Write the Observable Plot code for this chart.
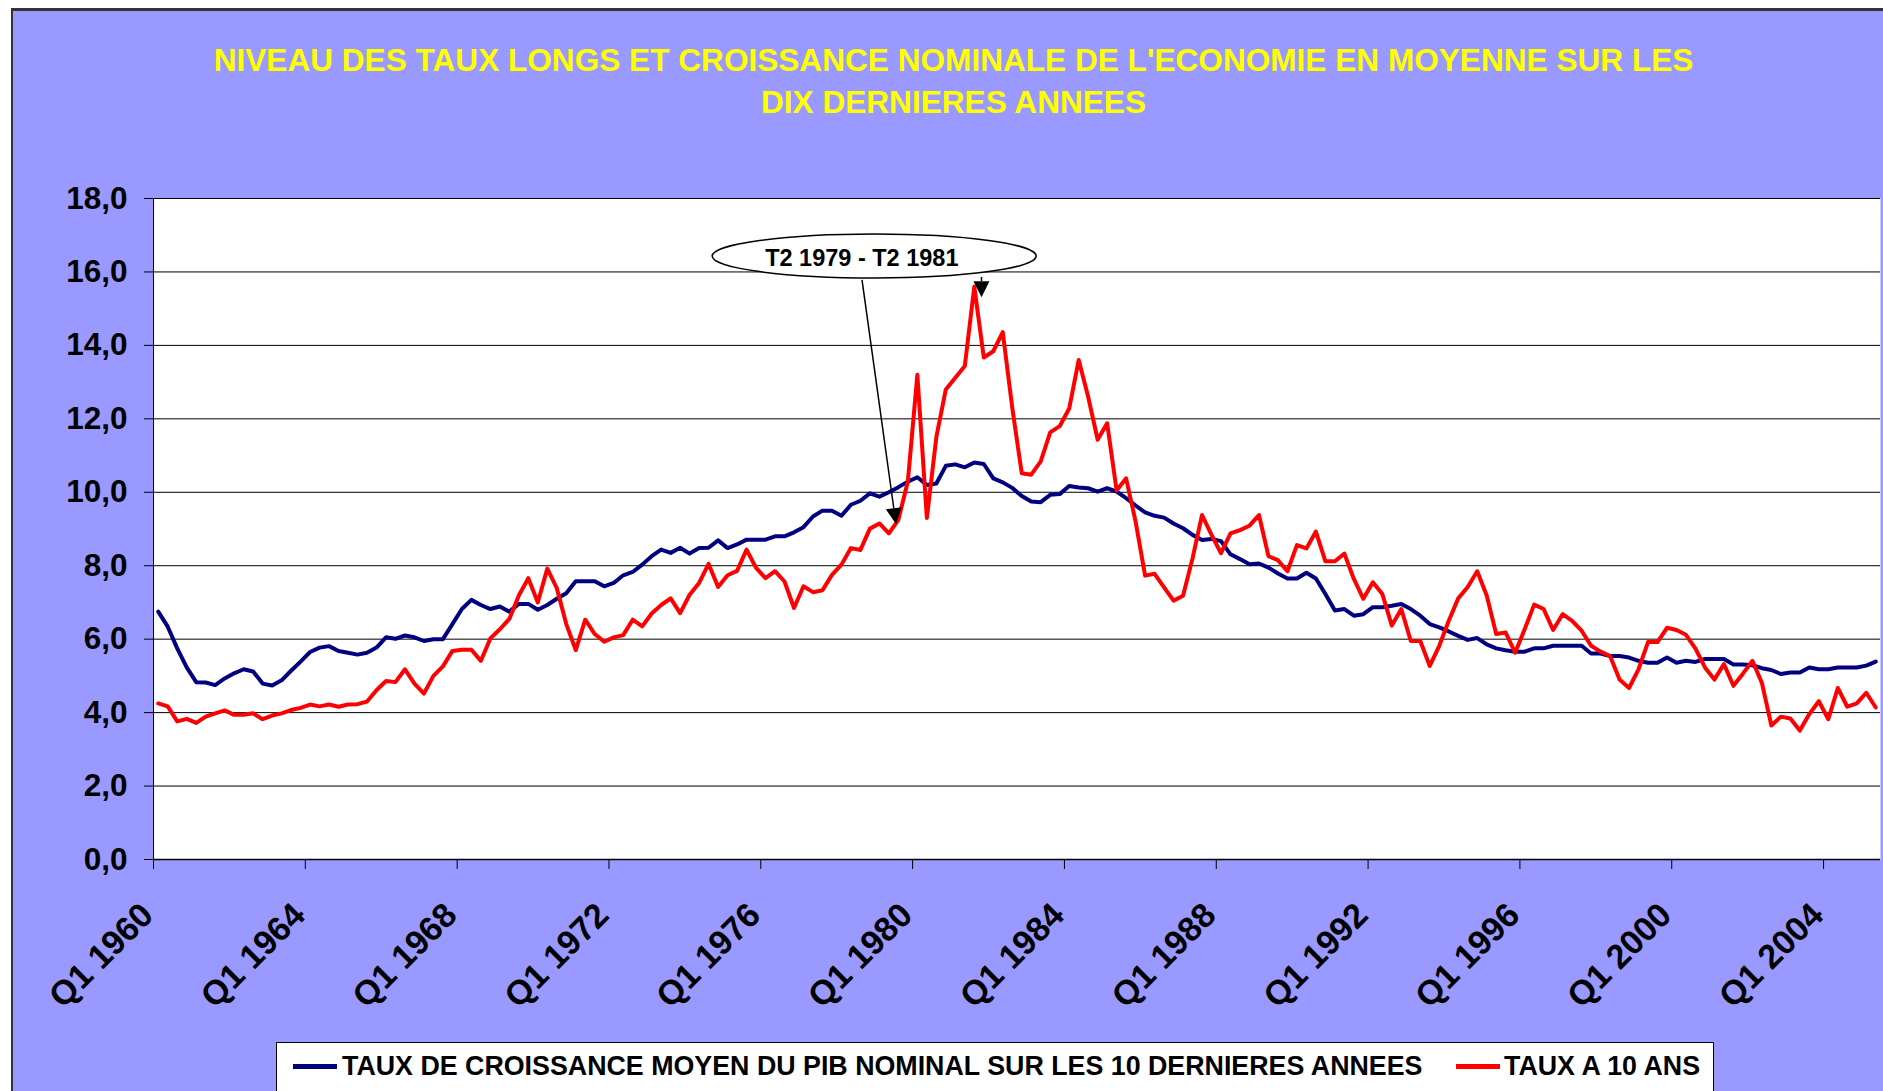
<!DOCTYPE html>
<html><head><meta charset="utf-8">
<script src="https://cdn.jsdelivr.net/npm/d3@7"></script>
<script src="https://cdn.jsdelivr.net/npm/@observablehq/plot@0.6"></script>
<style>
html,body{margin:0;padding:0;width:1883px;height:1091px;overflow:hidden;background:#fff;font-family:"Liberation Sans",Arial,sans-serif;}
#bg{position:absolute;left:11px;top:8px;width:1900px;height:1100px;background:#9999FF;border-top:3px solid #333;border-left:2px solid #333;}
#title{position:absolute;left:0;top:39px;width:1907px;text-align:center;color:#FFFF00;font-weight:bold;font-size:31.6px;line-height:42px;}
#chart{position:absolute;left:0;top:140px;}
#legend{position:absolute;left:276px;top:1042px;width:1436px;height:70px;background:#fff;border:1.5px solid #000;}
.sw{position:absolute;top:21px;height:5px;width:44px;}
.lt{position:absolute;top:6px;font-weight:bold;font-size:26.8px;line-height:34px;color:#000;white-space:nowrap;}
</style></head>
<body>
<div id="bg"></div>
<div id="title">NIVEAU DES TAUX LONGS ET CROISSANCE NOMINALE DE L'ECONOMIE EN MOYENNE SUR LES<br>DIX DERNIERES ANNEES</div>
<div id="chart"></div>
<div id="legend">
  <div class="sw" style="left:16px;background:#000080"></div>
  <div class="lt" id="l1" style="left:65px"></div>
  <div class="sw" style="left:1179px;background:#FF0000"></div>
  <div class="lt" id="l2" style="left:1227px"></div>
</div>
<script>
const startYear = 1960;
const seriesNames = ["TAUX DE CROISSANCE MOYEN DU PIB NOMINAL SUR LES 10 DERNIERES ANNEES", "TAUX A 10 ANS"];
const seriesColors = ["#000080", "#FF0000"];
const tickLabels = ["Q1 1960","Q1 1964","Q1 1968","Q1 1972","Q1 1976","Q1 1980","Q1 1984","Q1 1988","Q1 1992","Q1 1996","Q1 2000","Q1 2004"];
const yTicks = [0,2,4,6,8,10,12,14,16,18];

// Taux de croissance moyen du PIB nominal sur 10 ans (Q1 1960 .. Q2 2005)
const pibGrowth = [
6.75,6.34,5.75,5.23,4.83,4.82,4.75,4.93,5.07,5.18,5.12,4.79,4.74,4.88,5.14,5.39,
5.65,5.77,5.81,5.68,5.63,5.58,5.63,5.77,6.05,6.01,6.10,6.05,5.95,6.00,6.00,6.41,
6.82,7.07,6.93,6.82,6.89,6.75,6.96,6.96,6.80,6.93,7.10,7.25,7.58,7.58,7.58,7.44,
7.53,7.74,7.83,8.03,8.26,8.44,8.35,8.49,8.33,8.48,8.49,8.69,8.48,8.58,8.71,8.71,
8.71,8.80,8.80,8.91,9.05,9.34,9.50,9.50,9.36,9.66,9.77,9.97,9.88,10.00,10.14,10.29,
10.41,10.20,10.24,10.72,10.76,10.68,10.81,10.77,10.38,10.27,10.12,9.90,9.75,9.73,9.93,9.95,
10.17,10.13,10.11,10.02,10.11,10.02,9.84,9.64,9.45,9.36,9.31,9.15,9.02,8.84,8.70,8.73,
8.67,8.31,8.18,8.04,8.06,7.95,7.79,7.65,7.65,7.81,7.65,7.23,6.78,6.82,6.64,6.68,
6.87,6.87,6.91,6.96,6.82,6.64,6.41,6.32,6.21,6.09,5.98,6.03,5.86,5.75,5.70,5.66,
5.66,5.75,5.75,5.82,5.82,5.82,5.82,5.61,5.61,5.54,5.54,5.50,5.41,5.36,5.36,5.50,
5.36,5.41,5.38,5.46,5.46,5.46,5.31,5.31,5.29,5.21,5.16,5.05,5.09,5.09,5.23,5.18,
5.18,5.23,5.23,5.23,5.28,5.39
];
// Taux a 10 ans
const taux10 = [
4.25,4.17,3.76,3.83,3.72,3.89,3.98,4.06,3.94,3.94,3.98,3.82,3.92,3.98,4.07,4.13,
4.22,4.17,4.22,4.16,4.22,4.23,4.30,4.61,4.86,4.83,5.18,4.79,4.52,5.00,5.26,5.68,
5.71,5.71,5.41,6.02,6.27,6.55,7.19,7.66,7.00,7.92,7.39,6.41,5.70,6.53,6.14,5.93,
6.05,6.11,6.53,6.35,6.70,6.93,7.11,6.71,7.21,7.53,8.05,7.42,7.74,7.86,8.44,7.94,
7.66,7.85,7.57,6.85,7.44,7.28,7.33,7.75,8.03,8.48,8.43,9.01,9.15,8.88,9.25,10.30,
13.20,9.30,11.50,12.80,13.12,13.44,15.60,13.67,13.84,14.36,12.30,10.52,10.48,10.84,11.63,11.80,
12.28,13.60,12.60,11.43,11.88,10.05,10.38,9.20,7.73,7.78,7.41,7.05,7.18,8.20,9.38,8.84,
8.34,8.88,8.97,9.09,9.38,8.26,8.15,7.85,8.56,8.47,8.93,8.12,8.12,8.33,7.64,7.10,
7.55,7.23,6.37,6.82,5.95,5.95,5.27,5.82,6.50,7.11,7.42,7.85,7.19,6.14,6.18,5.63,
6.27,6.94,6.82,6.25,6.68,6.50,6.23,5.82,5.66,5.54,4.90,4.67,5.18,5.92,5.92,6.31,
6.25,6.12,5.74,5.23,4.90,5.32,4.73,5.06,5.41,4.81,3.65,3.89,3.84,3.51,3.96,4.31,
3.82,4.67,4.16,4.25,4.54,4.14
];

// annotation (in data units: x = quarter index, y = percent)
const annotationLabel = "T2 1979 - T2 1981";
const annotationEllipse = {x: 76.0, y: 16.42, rx: 162, ry: 22};
const annotationText = {x: 74.7, y: 16.37};
const annotationArrows = [
  {x1: 74.72, y1: 15.77, x2: 78.3, y2: 9.12},
  {x1: 87.31, y1: 15.85, x2: 87.31, y2: 15.3}
];

document.getElementById("l1").textContent = seriesNames[0];
document.getElementById("l2").textContent = seriesNames[1];

const nQ = pibGrowth.length;
const quarters = d3.range(nQ).map(i => `Q${(i % 4) + 1} ${startYear + Math.floor(i / 4)}`);
const rows = [];
quarters.forEach((q, i) => {
  rows.push({s: seriesNames[0], x: i + 0.5, v: pibGrowth[i], q});
  rows.push({s: seriesNames[1], x: i + 0.5, v: taux10[i], q});
});
const tickPos = tickLabels.map(l => quarters.indexOf(l));

const plot = Plot.plot({
  width: 1883, height: 890,
  marginLeft: 153, marginRight: 3, marginTop: 58, marginBottom: 171,
  style: {background: "transparent", fontFamily: "Liberation Sans, Arial, sans-serif", fontWeight: "bold", color: "#000", overflow: "visible"},
  x: {domain: [0, nQ], axis: null},
  y: {domain: [0, 18], axis: null},
  color: {domain: seriesNames, range: seriesColors},
  marks: [
    Plot.frame({fill: "white", stroke: null}),
    Plot.gridY(yTicks, {stroke: "#000", strokeOpacity: 1, strokeWidth: 1}),
    Plot.axisY(yTicks, {label: null, tickSize: 9, tickPadding: 17, fontSize: 31.5, tickFormat: d => d.toFixed(1).replace(".", ",")}),
    Plot.axisX(tickPos, {label: null, tickSize: 10, tickFormat: () => ""}),
    Plot.axisX(tickPos, {label: null, tickSize: 0, tickPadding: 50, tickRotate: -45, fontSize: 34, dx: -6, tickFormat: d => tickLabels[tickPos.indexOf(d)]}),
    Plot.ruleX([0], {stroke: "#000", strokeWidth: 1}),
    Plot.ruleY([0], {stroke: "#000", strokeWidth: 1.5}),
    Plot.line(rows, {x: "x", y: "v", z: "s", stroke: "s", strokeWidth: 4})
  ]
});
document.getElementById("chart").appendChild(plot);

// annotation overlay using the plot's own scales
const sx = plot.scale("x"), sy = plot.scale("y");
const svg = d3.select(plot);
const g = svg.append("g");
g.append("ellipse")
  .attr("cx", sx.apply(annotationEllipse.x)).attr("cy", sy.apply(annotationEllipse.y))
  .attr("rx", annotationEllipse.rx).attr("ry", annotationEllipse.ry)
  .attr("fill", "white").attr("stroke", "#000").attr("stroke-width", 1.5);
g.append("text")
  .attr("x", sx.apply(annotationText.x)).attr("y", sy.apply(annotationText.y))
  .attr("text-anchor", "middle").attr("dominant-baseline", "central")
  .attr("font-size", 23.5).attr("font-weight", "bold").attr("fill", "#000")
  .text(annotationLabel);
annotationArrows.forEach(a => {
  const x1 = sx.apply(a.x1), y1 = sy.apply(a.y1), x2 = sx.apply(a.x2), y2 = sy.apply(a.y2);
  const dx = x2 - x1, dy = y2 - y1, len = Math.hypot(dx, dy);
  const ux = dx / len, uy = dy / len, L = 16, W = 8;
  const bx = x2 - ux * L, by = y2 - uy * L;
  g.append("line").attr("x1", x1).attr("y1", y1).attr("x2", bx).attr("y2", by)
    .attr("stroke", "#000").attr("stroke-width", 1.5);
  g.append("polygon")
    .attr("points", [[x2, y2], [bx - uy * W, by + ux * W], [bx + uy * W, by - ux * W]].map(p => p.join(",")).join(" "))
    .attr("fill", "#000");
});
</script>
</body></html>
